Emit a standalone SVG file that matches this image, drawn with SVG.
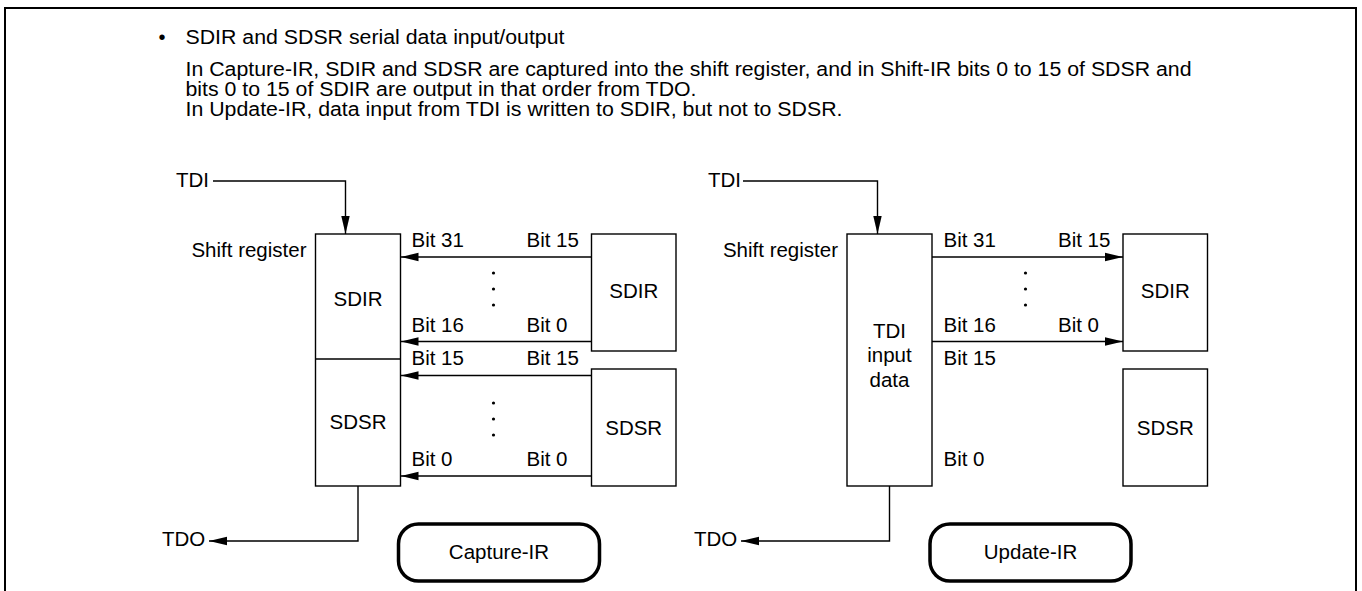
<svg xmlns="http://www.w3.org/2000/svg" width="1362" height="591" viewBox="0 0 1362 591">
<defs>
<style>
text{font-family:"Liberation Sans",Arial,Helvetica,sans-serif;fill:#000}
.p{font-size:20px}
.d{font-size:20.5px}
.m{text-anchor:middle}
.e{text-anchor:end}
.box{fill:#fff;stroke:#000;stroke-width:1.4}
.ln{fill:none;stroke:#000;stroke-width:1.4}
.pill{fill:#fff;stroke:#000;stroke-width:3.5}
.dot{fill:#000}
</style>
<marker id="ah" markerUnits="userSpaceOnUse" markerWidth="18" markerHeight="10" viewBox="0 0 18 10" refX="18" refY="5" orient="auto">
<path d="M0,0.8 L18,5 L0,9.2 Z" fill="#000"/>
</marker>
</defs>
<rect width="1362" height="591" fill="#fff"/>
<path d="M5,591 V8 H1356 V591" fill="none" stroke="#000" stroke-width="2"/>

<g id="paragraph">
<text class="p" x="158.5" y="44">•</text>
<text class="p" x="185.5" y="44" textLength="379" lengthAdjust="spacingAndGlyphs">SDIR and SDSR serial data input/output</text>
<text class="p" x="185.5" y="76" textLength="1006" lengthAdjust="spacingAndGlyphs">In Capture-IR, SDIR and SDSR are captured into the shift register, and in Shift-IR bits 0 to 15 of SDSR and</text>
<text class="p" x="185.5" y="96" textLength="511" lengthAdjust="spacingAndGlyphs">bits 0 to 15 of SDIR are output in that order from TDO.</text>
<text class="p" x="185.5" y="116" textLength="657" lengthAdjust="spacingAndGlyphs">In Update-IR, data input from TDI is written to SDIR, but not to SDSR.</text>
</g>

<g id="connectors">
<path class="ln" d="M213,181 H345.5 V234" marker-end="url(#ah)"/>
<path class="ln" d="M591.5,257 H400.5" marker-end="url(#ah)"/>
<path class="ln" d="M591.5,341.5 H400.5" marker-end="url(#ah)"/>
<path class="ln" d="M591.5,375.5 H400.5" marker-end="url(#ah)"/>
<path class="ln" d="M591.5,476 H400.5" marker-end="url(#ah)"/>
<path class="ln" d="M358,486 V541 H209" marker-end="url(#ah)"/>

<path class="ln" d="M743,181 H877.5 V234" marker-end="url(#ah)"/>
<path class="ln" d="M932,257 H1123" marker-end="url(#ah)"/>
<path class="ln" d="M932,341.5 H1123" marker-end="url(#ah)"/>
<path class="ln" d="M889.5,486 V541 H741" marker-end="url(#ah)"/>
</g>

<g id="capture-labels">
<text class="d" x="176" y="187">TDI</text>
<text class="d e" x="306.5" y="257">Shift register</text>
<text class="d" x="162" y="546">TDO</text>
<text class="d" x="411.5" y="247">Bit 31</text>
<text class="d" x="526.5" y="247">Bit 15</text>
<text class="d" x="411.5" y="332">Bit 16</text>
<text class="d" x="526.5" y="332">Bit 0</text>
<text class="d" x="411.5" y="365">Bit 15</text>
<text class="d" x="526.5" y="365">Bit 15</text>
<text class="d" x="411.5" y="466">Bit 0</text>
<text class="d" x="526.5" y="466">Bit 0</text>
<circle class="dot" cx="493.5" cy="273" r="1.6"/>
<circle class="dot" cx="493.5" cy="289" r="1.6"/>
<circle class="dot" cx="493.5" cy="305" r="1.6"/>
<circle class="dot" cx="493.5" cy="403" r="1.6"/>
<circle class="dot" cx="493.5" cy="419" r="1.6"/>
<circle class="dot" cx="493.5" cy="435" r="1.6"/>
</g>

<g id="shift-register-capture">
<rect class="box" x="315.5" y="234" width="85" height="252"/>
<line class="ln" x1="315.5" y1="359" x2="400.5" y2="359"/>
<text class="d m" x="358" y="306">SDIR</text>
<text class="d m" x="358" y="429">SDSR</text>
</g>

<g id="sdir-capture">
<rect class="box" x="591.5" y="234" width="84.5" height="117"/>
<text class="d m" x="633.7" y="298">SDIR</text>
</g>

<g id="sdsr-capture">
<rect class="box" x="591.5" y="369" width="84.5" height="117"/>
<text class="d m" x="633.7" y="435">SDSR</text>
</g>

<g id="capture-ir">
<rect class="pill" x="398.5" y="524" width="201" height="57" rx="20" ry="20"/>
<text class="d m" x="499" y="559">Capture-IR</text>
</g>

<g id="update-labels">
<text class="d" x="708" y="187">TDI</text>
<text class="d e" x="838" y="257">Shift register</text>
<text class="d" x="694" y="546">TDO</text>
<text class="d" x="943.5" y="247">Bit 31</text>
<text class="d" x="1058" y="247">Bit 15</text>
<text class="d" x="943.5" y="332">Bit 16</text>
<text class="d" x="1058" y="332">Bit 0</text>
<text class="d" x="943.5" y="365">Bit 15</text>
<text class="d" x="943.5" y="466">Bit 0</text>
<circle class="dot" cx="1025.5" cy="273" r="1.6"/>
<circle class="dot" cx="1025.5" cy="289" r="1.6"/>
<circle class="dot" cx="1025.5" cy="305" r="1.6"/>
</g>

<g id="shift-register-update">
<rect class="box" x="847" y="234" width="85" height="252"/>
<text class="d m" x="889.5" y="338">TDI</text>
<text class="d m" x="889.5" y="362">input</text>
<text class="d m" x="889.5" y="387">data</text>
</g>

<g id="sdir-update">
<rect class="box" x="1123" y="234" width="84.5" height="117"/>
<text class="d m" x="1165.3" y="298">SDIR</text>
</g>

<g id="sdsr-update">
<rect class="box" x="1123" y="369" width="84.5" height="117"/>
<text class="d m" x="1165.3" y="435">SDSR</text>
</g>

<g id="update-ir">
<rect class="pill" x="930" y="524" width="201" height="57" rx="20" ry="20"/>
<text class="d m" x="1030.5" y="559">Update-IR</text>
</g>
</svg>
